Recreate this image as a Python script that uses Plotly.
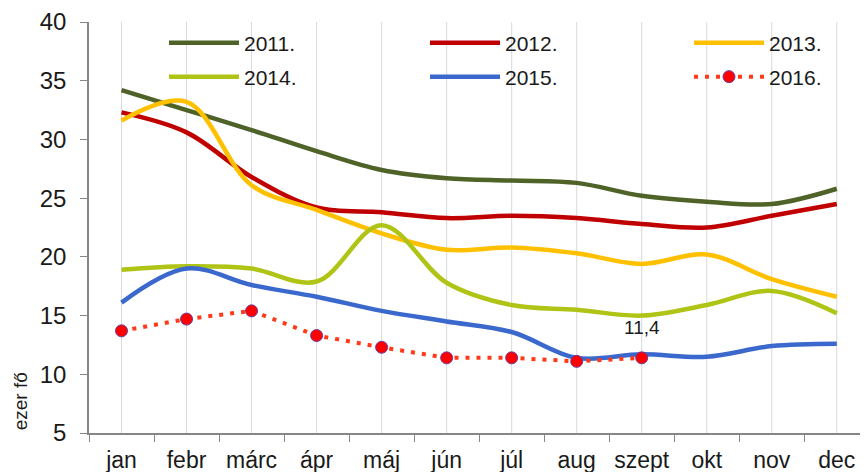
import plotly.graph_objects as go

months = ["jan", "febr", "márc", "ápr", "máj", "jún", "júl", "aug", "szept", "okt", "nov", "dec"]
series_names = ["2011.", "2012.", "2013.", "2014.", "2015.", "2016."]
y2011 = [34.2, 32.5, 30.8, 29.0, 27.4, 26.7, 26.5, 26.3, 25.2, 24.7, 24.5, 25.8]
y2012 = [32.3, 30.6, 26.8, 24.2, 23.8, 23.3, 23.5, 23.3, 22.8, 22.5, 23.5, 24.5]
y2013 = [31.6, 33.2, 26.1, 24.0, 22.0, 20.6, 20.8, 20.3, 19.4, 20.2, 18.1, 16.6]
y2014 = [18.9, 19.2, 19.0, 17.9, 22.7, 17.8, 15.9, 15.5, 15.0, 15.9, 17.1, 15.2]
y2015 = [16.1, 19.0, 17.6, 16.6, 15.4, 14.5, 13.6, 11.4, 11.7, 11.5, 12.4, 12.6]
y2016 = [13.7, 14.7, 15.4, 13.3, 12.3, 11.4, 11.4, 11.1, 11.4]
label_index = 8  # szept
y_title = "ezer fő"

FONT = "Liberation Sans, Arial, sans-serif"
TXT = "#1a1a1a"
colors = ["#4F6228", "#C00000", "#FFC000", "#AFC415", "#3A68CC"]
solid = [y2011, y2012, y2013, y2014, y2015]
legend_ids = ["legend", "legend2", "legend3", "legend4", "legend5", "legend6"]

W, H = 868, 472
OFF = 8  # page body margin offset

fig = go.Figure()
for i, (name, vals, col) in enumerate(zip(series_names[:5], solid, colors)):
    fig.add_trace(go.Scatter(
        x=months, y=vals, name=name, mode="lines",
        line=dict(color=col, width=4.5, shape="spline", smoothing=1),
        legend=legend_ids[i], showlegend=True,
    ))

fig.add_trace(go.Scatter(
    x=months[:len(y2016)], y=y2016, name=series_names[5], mode="lines+markers",
    line=dict(color="#FF3A1A", width=4, dash="4px,7px"),
    marker=dict(color="#FF0000", size=12, line=dict(color="#6A3C9C", width=1)),
    legend=legend_ids[5], showlegend=True,
))

# vertical gridlines at category centres
for m in months:
    fig.add_shape(type="line", xref="x", yref="paper", x0=m, x1=m, y0=0, y1=1,
                  line=dict(color="#D9D9D9", width=1), layer="below")

lbl = f"{y2016[label_index]:.1f}".replace(".", ",")
fig.add_annotation(x=months[label_index], y=y2016[label_index], text=lbl,
                   showarrow=False, yshift=30, font=dict(family=FONT, size=19, color=TXT))

fig.add_annotation(xref="paper", x=0, xshift=-69, yref="y", y=7.7, text=y_title,
                   textangle=-90, showarrow=False, xanchor="center", yanchor="middle",
                   font=dict(family=FONT, size=19, color=TXT))

# legend placement (page pixels of line-sample start and row centre)
col_px = [170, 431, 695]
row_px = [43, 77]
legends = {}
for i, lid in enumerate(legend_ids):
    cx = col_px[i % 3] - 6 - OFF
    cy = row_px[i // 3] - OFF
    legends[lid] = dict(
        orientation="h", bgcolor="rgba(0,0,0,0)", borderwidth=0, visible=True,
        font=dict(family=FONT, size=21, color=TXT), itemwidth=70,
        xref="container", yref="container", xanchor="left", yanchor="middle",
        x=cx / W, y=1 - cy / H,
    )

fig.update_layout(
    width=W, height=H, showlegend=True,
    margin=dict(l=89 - OFF, r=OFF, t=22 - OFF, b=H - (433 - OFF), autoexpand=False),
    paper_bgcolor="white", plot_bgcolor="white",
    font=dict(family=FONT, color=TXT),
    xaxis=dict(type="category", range=[-0.5, 11.48], tickson="boundaries",
               ticks="outside", ticklen=7, tickcolor="#868686", showline=True,
               linecolor="#868686", linewidth=1.5, showgrid=False,
               ticklabelstandoff=6,
               tickfont=dict(family=FONT, size=23, color=TXT)),
    yaxis=dict(range=[5, 40], dtick=5, tick0=5, ticks="outside", ticklen=7,
               tickcolor="#868686", showline=True, linecolor="#868686", linewidth=1.5,
               showgrid=False, zeroline=False, ticklabelstandoff=9,
               tickfont=dict(family=FONT, size=24, color=TXT)),
    **legends,
)

fig.write_html("out.html")
